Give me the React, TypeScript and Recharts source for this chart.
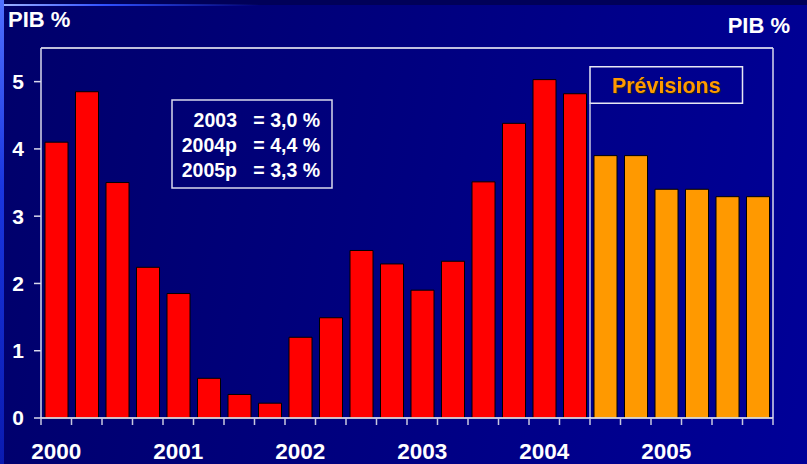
import React from 'react';
import { BarChart, Bar, Cell, XAxis, YAxis, ReferenceLine, ReferenceArea } from 'recharts';

const quarters = [
  '2000 T1', '2000 T2', '2000 T3', '2000 T4',
  '2001 T1', '2001 T2', '2001 T3', '2001 T4',
  '2002 T1', '2002 T2', '2002 T3', '2002 T4',
  '2003 T1', '2003 T2', '2003 T3', '2003 T4',
  '2004 T1', '2004 T2', '2004 T3', '2004 T4',
  '2005 T1', '2005 T2', '2005 T3', '2005 T4',
];

// croissance du PIB en %, glissement annuel
const pibGrowth = [
  4.1, 4.85, 3.5, 2.24,
  1.85, 0.59, 0.35, 0.22,
  1.2, 1.49, 2.49, 2.29,
  1.9, 2.33, 3.51, 4.38,
  5.03, 4.82, 3.9, 3.9,
  3.4, 3.4, 3.29, 3.29,
];

const firstForecast = '2004 T3';
const lastForecastBox = '2005 T3';
const yTicks = [0, 1, 2, 3, 4, 5];
const noteYears = ['2003', '2004p', '2005p'];
const noteValues = ['= 3,0 %', '= 4,4 %', '= 3,3 %'];

const data = quarters.map((q, i) => ({ quarter: q, value: pibGrowth[i] }));
const forecastIndex = quarters.indexOf(firstForecast);

const FONT = '"Liberation Sans", Arial, sans-serif';

function QuarterTick(props: any) {
  const { x, y, payload, index } = props;
  const half = payload?.offset ?? (732 / quarters.length) / 2;
  const [year, q] = String(payload.value).split(' ');
  const isLast = index === quarters.length - 1;
  return (
    <g>
      <line x1={x - half} x2={x - half} y1={y} y2={y + 7} stroke="#c8c8e0" strokeWidth={1.5} />
      {isLast && <line x1={x + half} x2={x + half} y1={y} y2={y + 7} stroke="#c8c8e0" strokeWidth={1.5} />}
      {q === 'T1' && (
        <text x={x} y={y + 41} textAnchor="middle" fill="#ffffff" fontSize={22.5} fontWeight="bold" fontFamily={FONT}>
          {year}
        </text>
      )}
    </g>
  );
}

export default function App() {
  return (
    <div
      style={{
        position: 'relative',
        width: 807,
        height: 464,
        overflow: 'hidden',
        background: 'linear-gradient(100deg, #00006a 0%, #00007e 45%, #000098 100%)',
        fontFamily: FONT,
      }}
    >
      <style>{`body{margin:0}`}</style>
      <div style={{ position: 'absolute', left: 0, top: 0, width: 807, height: 5, background: '#000058' }} />
      <div
        style={{
          position: 'absolute', left: 0, top: 4, width: 260, height: 2,
          background: 'linear-gradient(90deg, #9fb4ff 0%, #3050ff 40%, rgba(0,0,160,0) 100%)',
        }}
      />
      <div
        style={{
          position: 'absolute', left: 0, top: 0, width: 4, height: 464,
          background: 'linear-gradient(180deg, #5070ff 0%, #1a36e0 40%, #0a1ab0 100%)',
        }}
      />

      <BarChart
        width={807}
        height={464}
        data={data}
        margin={{ top: 48, right: 0, bottom: 0, left: 0 }}
        barCategoryGap="25%"
        style={{ position: 'absolute', left: 0, top: 0 }}
      >
        <XAxis
          dataKey="quarter"
          interval={0}
          height={46}
          tickLine={false}
          tickSize={0}
          tickMargin={0}
          axisLine={{ stroke: '#ffffff', strokeWidth: 1.5 }}
          tick={<QuarterTick />}
        />
        <YAxis
          yAxisId="left"
          width={41}
          domain={[0, 5.5]}
          ticks={yTicks}
          tickSize={7}
          tickMargin={10}
          axisLine={{ stroke: '#d8d8ec', strokeWidth: 1.5 }}
          tickLine={{ stroke: '#d8d8ec', strokeWidth: 1.5 }}
          tick={{ fill: '#ffffff', fontSize: 21, fontWeight: 'bold', fontFamily: FONT }}
        />
        <YAxis
          yAxisId="right"
          orientation="right"
          width={34}
          domain={[0, 5.5]}
          ticks={yTicks}
          tickSize={7}
          tickMargin={11}
          axisLine={{ stroke: '#d8d8ec', strokeWidth: 1.5 }}
          tickLine={{ stroke: '#d8d8ec', strokeWidth: 1.5 }}
          tick={{ fill: '#ffffff', fontSize: 21, fontWeight: 'bold', fontFamily: FONT, textAnchor: 'start' }}
        />
        <ReferenceLine yAxisId="left" y={5.5} stroke="#ffffff" strokeWidth={1.5} />
        <Bar yAxisId="left" dataKey="value" barSize={23} stroke="#000000" strokeWidth={1} isAnimationActive={false}>
          {data.map((d, i) => (
            <Cell key={d.quarter} fill={i >= forecastIndex ? '#ff9900' : '#ff0000'} />
          ))}
        </Bar>
        <ReferenceLine
          yAxisId="left"
          position="start"
          segment={[{ x: firstForecast, y: 0 }, { x: firstForecast, y: 4.68 }]}
          stroke="#c8c8e0"
          strokeWidth={1.5}
        />
        <ReferenceArea
          yAxisId="left"
          x1={firstForecast}
          x2={lastForecastBox}
          y1={4.68}
          y2={5.22}
          fill="none"
          fillOpacity={0}
          stroke="#e8e8f4"
          strokeWidth={1.5}
          label={{
            value: 'Prévisions',
            position: 'center',
            fill: '#ff9900',
            fontSize: 21.5,
            fontWeight: 'bold',
            fontFamily: FONT,
            style: { filter: 'drop-shadow(1px 1px 0px #202020)' },
          }}
        />
      </BarChart>

      <svg width={807} height={464} style={{ position: 'absolute', left: 0, top: 0, pointerEvents: 'none' }}>
        <text x={8} y={27} fill="#ffffff" fontSize={22} fontWeight="bold" fontFamily={FONT}>PIB %</text>
        <text x={790} y={33} textAnchor="end" fill="#ffffff" fontSize={22} fontWeight="bold" fontFamily={FONT}>PIB %</text>
        <rect x={172} y={100} width={160} height={88} fill="none" stroke="#d8d8ec" strokeWidth={1.5} />
        {noteYears.map((yr, i) => (
          <text key={yr} y={126.5 + i * 25} fill="#ffffff" fontSize={19.5} fontWeight="bold" fontFamily={FONT}>
            <tspan x={237} textAnchor="end">{yr}</tspan>
            <tspan x={320} textAnchor="end">{' ' + noteValues[i]}</tspan>
          </text>
        ))}
      </svg>
    </div>
  );
}
